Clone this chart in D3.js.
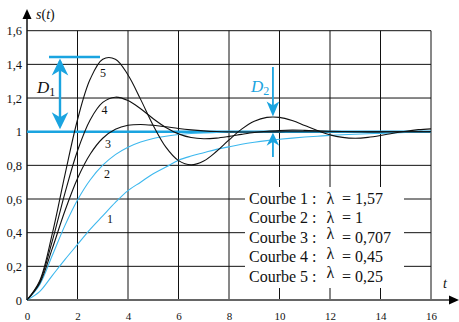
<!DOCTYPE html>
<html><head><meta charset="utf-8">
<script src="https://cdn.jsdelivr.net/npm/d3@7"></script>
<style>body{margin:0;background:#fff}svg{display:block}text{font-family:"Liberation Serif","Times New Roman",serif}</style>
</head><body><svg id="c" width="459" height="322"></svg>
<script>
const times = [0,0.5,1,1.5,2,2.5,3,3.5,4,4.5,5,5.5,6,6.5,7,7.5,8,8.5,9,9.5,10,10.5,11,11.5,12,12.5,13,13.5,14,14.5,15,15.5,16];
const curve1 = [0,0.05,0.145,0.24,0.33,0.42,0.50,0.58,0.65,0.70,0.75,0.79,0.83,0.855,0.875,0.895,0.91,0.925,0.937,0.947,0.955,0.962,0.968,0.973,0.978,0.982,0.985,0.988,0.99,0.993,0.995,0.997,0.999];
const curve2 = [0,0.090,0.264,0.442,0.594,0.713,0.801,0.864,0.908,0.939,0.960,0.973,0.983,0.989,0.993,0.995,0.997,0.998,0.999,0.999,1,1,1,1,1,1,1,1,1,1,1,1,1];
const curve3 = [0,0.098,0.305,0.529,0.722,0.866,0.961,1.014,1.038,1.043,1.038,1.029,1.019,1.011,1.005,1.001,0.999,0.998,0.998,0.999,0.999,1,1,1,1,1,1,1,1,1,1,1,1];
const curve4 = [0,0.106,0.350,0.634,0.887,1.070,1.174,1.205,1.185,1.136,1.077,1.025,0.987,0.965,0.958,0.962,0.972,0.984,0.995,1.003,1.007,1.009,1.008,1.006,1.003,1.001,0.9995,0.999,0.999,1,1,1,1];
const curve5 = [0,0.113,0.393,0.742,1.071,1.311,1.431,1.431,1.337,1.192,1.037,0.908,0.828,0.803,0.826,0.882,0.951,1.015,1.062,1.085,1.085,1.066,1.037,1.007,0.981,0.966,0.961,0.966,0.977,0.991,1.003,1.012,1.017];
const curveNames = ["1","2","3","4","5"];
const lambdas = ["1,57","1","0,707","0,45","0,25"];
const xTicks = [0,2,4,6,8,10,12,14,16];
const yTicks = [0,0.2,0.4,0.6,0.8,1,1.2,1.4,1.6];
const yTickLabels = ["0","0,2","0,4","0,6","0,8","1","1,2","1,4","1,6"];
const overshoot1 = 1.444;   // D1 top
const overshoot2 = 1.088;   // D2 top

const svg = d3.select("#c");
const x = d3.scaleLinear().domain([0,16]).range([27,431]);
const y = d3.scaleLinear().domain([0,1.6]).range([300,30.7]);
const cyan = "#1aa4e0", lightCyan = "#3db8ee";

// grid
const g = svg.append("g").attr("stroke","#111").attr("stroke-width",1);
xTicks.filter(d=>d>0).forEach(d=>g.append("line").attr("x1",x(d)).attr("x2",x(d)).attr("y1",y(0)).attr("y2",y(1.6)));
yTicks.filter(d=>d>0).forEach(d=>g.append("line").attr("x1",x(0)).attr("x2",x(16)).attr("y1",y(d)).attr("y2",y(d)));

// legend box (white background over grid)
svg.append("rect").attr("x",245).attr("y",187).attr("width",159).attr("height",101).attr("fill","#fff");

// axes
svg.append("line").attr("x1",x(0)).attr("x2",453).attr("y1",y(0)).attr("y2",y(0)).attr("stroke","#666").attr("stroke-width",2);
svg.append("path").attr("d",`M459,${y(0)} L449,${y(0)-4.5} L449,${y(0)+4.5} Z`).attr("fill","#000");
svg.append("line").attr("x1",x(0)).attr("x2",x(0)).attr("y1",y(0)).attr("y2",16).attr("stroke","#111").attr("stroke-width",1.5);
svg.append("path").attr("d",`M${x(0)},9 L${x(0)-4.5},19 L${x(0)+4.5},19 Z`).attr("fill","#000");

const xa = svg.append("g").attr("transform",`translate(0,${y(0)})`)
  .call(d3.axisBottom(x).tickValues(xTicks).tickSize(0).tickPadding(12).tickFormat(d3.format("d")));
xa.select(".domain").remove();
xa.attr("font-family","Liberation Serif");
xa.selectAll("text").attr("font-family","Liberation Serif").attr("font-size",11).attr("fill","#111");
const ya = svg.append("g").attr("transform",`translate(22,0)`)
  .call(d3.axisLeft(y).tickValues(yTicks).tickSize(0).tickPadding(0).tickFormat((d,i)=>yTickLabels[i]));
ya.select(".domain").remove();
ya.attr("font-family","Liberation Serif");
ya.selectAll("text").attr("font-family","Liberation Serif").attr("font-size",12.5).attr("fill","#111");

// reference line at 1
svg.append("line").attr("x1",x(0)).attr("x2",x(16)).attr("y1",y(1)).attr("y2",y(1)).attr("stroke",cyan).attr("stroke-width",2.6);

// curves
const line = d3.line().x((d,i)=>x(times[i])).y(d=>y(d)).curve(d3.curveCatmullRom);
const series = [curve1,curve2,curve3,curve4,curve5];
const colors = [lightCyan,lightCyan,"#111","#111","#111"];
series.forEach((s,i)=>svg.append("path").attr("d",line(s)).attr("fill","none").attr("stroke",colors[i]).attr("stroke-width",1.1));

// curve number labels
const labPos = [[110,223],[107,178],[108,147.5],[104.5,114],[103,76.5]];
curveNames.forEach((n,i)=>svg.append("text").attr("x",labPos[i][0]).attr("y",labPos[i][1]).attr("text-anchor","middle").attr("font-size",12).attr("fill","#111").text(n));

// arrow heads
function head(tx,ty,dir,L,W,n,col){
  const b=ty+dir*L, m=ty+dir*(L-n);
  svg.append("path").attr("d",`M${tx},${ty} L${tx-W},${b} L${tx},${m} L${tx+W},${b} Z`).attr("fill",col);
}
// D1
const d1x = 60;
svg.append("line").attr("x1",49).attr("x2",100).attr("y1",y(overshoot1)).attr("y2",y(overshoot1)).attr("stroke",cyan).attr("stroke-width",2.6);
svg.append("line").attr("x1",d1x).attr("x2",d1x).attr("y1",y(overshoot1)+4).attr("y2",y(1)-6).attr("stroke",cyan).attr("stroke-width",2.4);
head(d1x,y(overshoot1)+1.5,1,17,8.3,5,cyan);
head(d1x,y(1)-2.5,-1,17,8.3,5,cyan);
const t1 = svg.append("text").attr("x",37).attr("y",93).attr("font-size",17).attr("font-style","italic").attr("fill","#111");
t1.append("tspan").text("D");
t1.append("tspan").attr("font-size",12).attr("font-style","normal").attr("dy",3).text("1");
// D2
const d2x = x(9.74);
svg.append("line").attr("x1",d2x).attr("x2",d2x).attr("y1",67).attr("y2",y(overshoot2)-6).attr("stroke",cyan).attr("stroke-width",1.8);
head(d2x,y(overshoot2)-0.5,-1,15,6.3,4,cyan);
svg.append("line").attr("x1",d2x).attr("x2",d2x).attr("y1",157).attr("y2",y(1)+6).attr("stroke",cyan).attr("stroke-width",1.8);
head(d2x,y(1)+1,1,13,6.3,4,cyan);
const t2 = svg.append("text").attr("x",251).attr("y",92).attr("font-size",17).attr("font-style","italic").attr("fill",cyan);
t2.append("tspan").text("D");
t2.append("tspan").attr("font-size",12).attr("font-style","normal").attr("dy",3).text("2");

// axis titles
const st = svg.append("text").attr("x",36).attr("y",19).attr("font-size",14).attr("fill","#111");
st.append("tspan").attr("font-style","italic").text("s");
st.append("tspan").text("(");
st.append("tspan").attr("font-style","italic").text("t");
st.append("tspan").text(")");
svg.append("text").attr("x",443).attr("y",288).attr("font-size",14).attr("font-style","italic").attr("fill","#111").text("t");

// legend
lambdas.forEach((l,i)=>{
  const by = 203.5 + i*19.6;
  svg.append("text").attr("x",249).attr("y",by).attr("font-size",16).attr("fill","#111").text(`Courbe ${curveNames[i]} :`);
  svg.append("text").attr("x",326.5).attr("y",by-(i>=2?3.5:0)).attr("font-size",16).attr("fill","#111").text("λ");
  svg.append("text").attr("x",342).attr("y",by).attr("font-size",16).attr("fill","#111").text(`= ${l}`);
});
</script></body></html>
